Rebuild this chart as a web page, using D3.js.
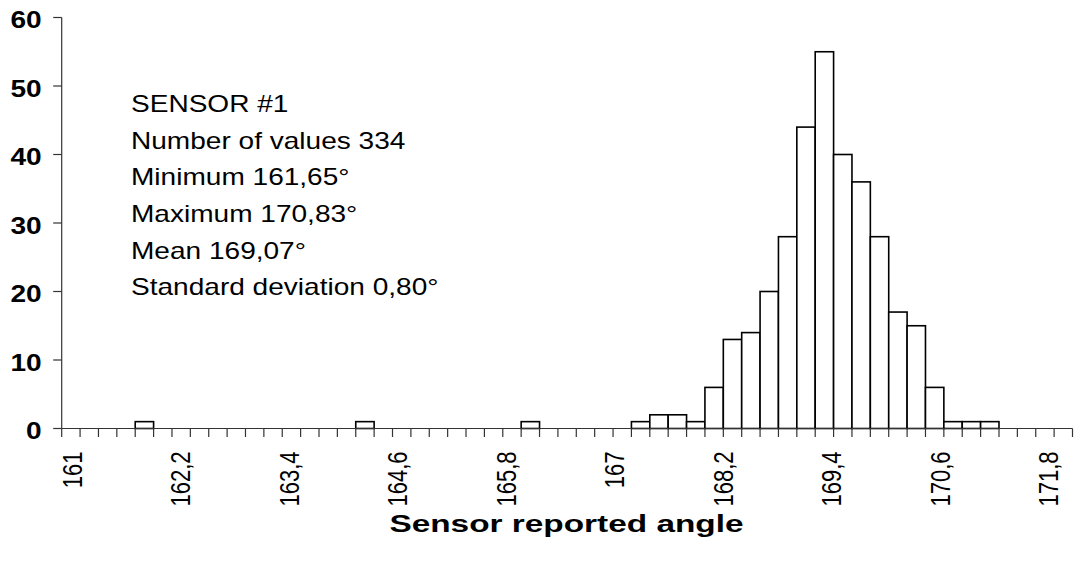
<!DOCTYPE html>
<html>
<head>
<meta charset="utf-8">
<script src="https://cdn.jsdelivr.net/npm/d3@7"></script>
<style>
  body { margin: 0; background: #fff; }
  text { font-family: "Liberation Sans", Arial, sans-serif; fill: #000; }
</style>
</head>
<body>
<div id="chart"></div>
<script>
// histogram bins (upper bin limits, step 0.2)
var bins = [161, 161.2, 161.4, 161.6, 161.8, 162, 162.2, 162.4, 162.6, 162.8,
            163, 163.2, 163.4, 163.6, 163.8, 164, 164.2, 164.4, 164.6, 164.8,
            165, 165.2, 165.4, 165.6, 165.8, 166, 166.2, 166.4, 166.6, 166.8,
            167, 167.2, 167.4, 167.6, 167.8, 168, 168.2, 168.4, 168.6, 168.8,
            169, 169.2, 169.4, 169.6, 169.8, 170, 170.2, 170.4, 170.6, 170.8,
            171, 171.2, 171.4, 171.6, 171.8];

// number of readings per bin
var counts = [0, 0, 0, 0, 1, 0, 0, 0, 0, 0,
              0, 0, 0, 0, 0, 0, 1, 0, 0, 0,
              0, 0, 0, 0, 0, 1, 0, 0, 0, 0,
              0, 1, 2, 2, 1, 6, 13, 14, 20, 28,
              44, 55, 40, 36, 28, 17, 15, 6, 1, 1,
              1, 0, 0, 0, 0];

var xTickLabels = [161, 162.2, 163.4, 164.6, 165.8, 167, 168.2, 169.4, 170.6, 171.8];
var yTicks = [0, 10, 20, 30, 40, 50, 60];

var infoLines = ["SENSOR #1", "Number of values 334", "Minimum 161,65\u00b0",
                 "Maximum 170,83\u00b0", "Mean 169,07\u00b0", "Standard deviation 0,80\u00b0"];

var svgWidth = 1090, svgHeight = 564;
var margin = { top: 17.5, right: 17.5, bottom: 135.5, left: 61.7 };
var width = svgWidth - margin.left - margin.right;
var height = svgHeight - margin.top - margin.bottom;
var stretch = 1.22; // text in the picture is a bit wider than Arial

var data = bins.map(function(b, i) { return { bin: b, count: counts[i] }; });

var svg = d3.select("#chart").append("svg")
  .attr("width", svgWidth)
  .attr("height", svgHeight);

var chartGroup = svg.append("g")
  .attr("transform", `translate(${margin.left}, ${margin.top})`);

// scales
var xScale = d3.scaleBand()
  .domain(bins)
  .range([0, width])
  .padding(0);

var yScale = d3.scaleLinear()
  .domain([0, 60])
  .range([height, 0]);

var bw = xScale.bandwidth();
var labelScale = d3.scalePoint()
  .domain(xTickLabels)
  .range([xScale(161) + bw / 2 + 1, xScale(171.8) - bw * 0.3]);

// bars
chartGroup.selectAll("rect.bar")
  .data(data.filter(function(d) { return d.count > 0; }))
  .enter()
  .append("rect")
  .attr("class", "bar")
  .attr("x", function(d) { return xScale(d.bin); })
  .attr("y", function(d) { return yScale(d.count); })
  .attr("width", bw)
  .attr("height", function(d) { return yScale(0) - yScale(d.count); })
  .attr("fill", "#fff")
  .attr("stroke", "#000")
  .attr("stroke-width", 1.6);

// x axis line and category ticks
var axisColor = "#333";
chartGroup.append("line")
  .attr("x1", 0).attr("x2", width)
  .attr("y1", height).attr("y2", height)
  .attr("stroke", axisColor).attr("stroke-width", 1.2);

var tickPos = bins.map(function(b) { return xScale(b); }).concat([width]);
chartGroup.selectAll("line.xtick")
  .data(tickPos)
  .enter()
  .append("line")
  .attr("class", "xtick")
  .attr("x1", function(d) { return d; })
  .attr("x2", function(d) { return d; })
  .attr("y1", height)
  .attr("y2", height + 8.5)
  .attr("stroke", axisColor).attr("stroke-width", 1.2);

// x tick labels (rotated)
var fmt = function(v) { return String(v).replace(".", ","); };
chartGroup.selectAll("text.xlabel")
  .data(xTickLabels)
  .enter()
  .append("text")
  .attr("class", "xlabel")
  .attr("transform", function(d) { return `translate(${labelScale(d)}, ${height + 23}) scale(${stretch}, 1) rotate(-90)`; })
  .attr("dy", "0.36em")
  .attr("text-anchor", "end")
  .style("font-size", "22px")
  .text(fmt);

// y axis
chartGroup.append("line")
  .attr("x1", 0).attr("x2", 0)
  .attr("y1", 0).attr("y2", height)
  .attr("stroke", axisColor).attr("stroke-width", 1.2);

chartGroup.selectAll("line.ytick")
  .data(yTicks)
  .enter()
  .append("line")
  .attr("class", "ytick")
  .attr("x1", -8.5).attr("x2", 0)
  .attr("y1", function(d) { return yScale(d); })
  .attr("y2", function(d) { return yScale(d); })
  .attr("stroke", axisColor).attr("stroke-width", 1.2);

chartGroup.selectAll("text.ylabel")
  .data(yTicks)
  .enter()
  .append("text")
  .attr("class", "ylabel")
  .attr("transform", function(d) { return `translate(-20, ${yScale(d) + 10.8}) scale(${stretch}, 1)`; })
  .attr("text-anchor", "end")
  .style("font-size", "23px")
  .style("font-weight", "bold")
  .text(function(d) { return d; });

// axis title
svg.append("text")
  .attr("transform", `translate(566.5, 532) scale(1.42, 1)`)
  .attr("text-anchor", "middle")
  .style("font-size", "23.5px")
  .style("font-weight", "bold")
  .text("Sensor reported angle");

// statistics block
svg.selectAll("text.info")
  .data(infoLines)
  .enter()
  .append("text")
  .attr("class", "info")
  .attr("transform", function(d, i) { return `translate(131, ${111.8 + i * 36.7}) scale(${stretch}, 1)`; })
  .style("font-size", "23px")
  .text(function(d) { return d; });
</script>
</body>
</html>
